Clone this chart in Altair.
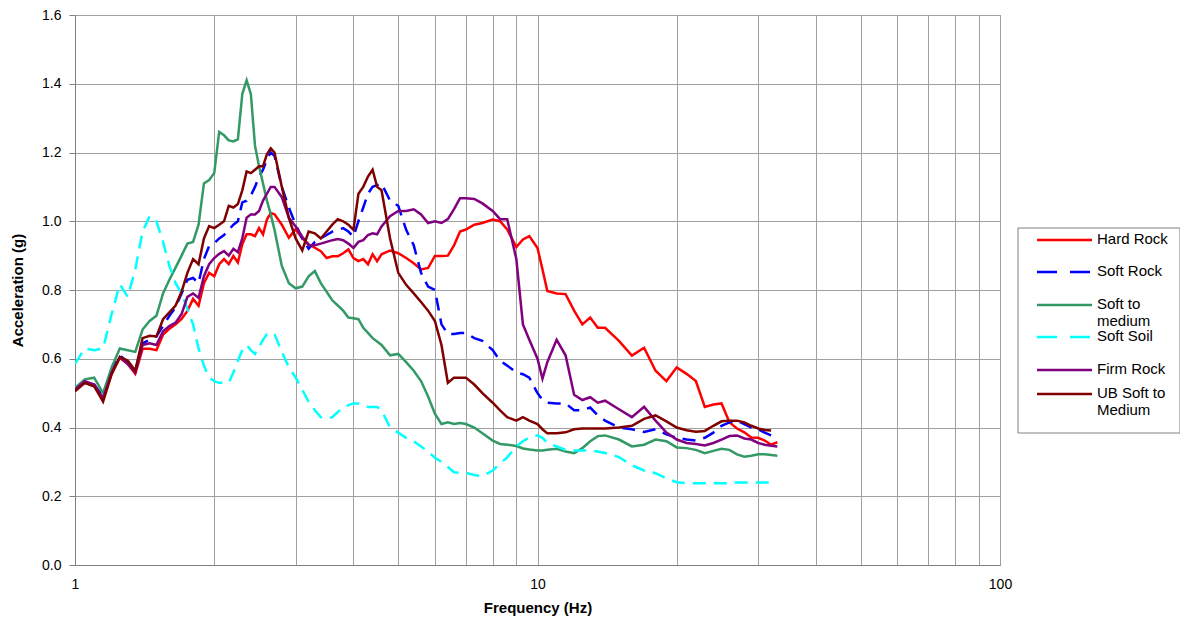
import altair as alt
import pandas as pd

# ---- data ----
freq = [1.0, 1.05, 1.1, 1.15, 1.2, 1.25, 1.3, 1.35, 1.4, 1.45,
        1.5, 1.55, 1.6, 1.65, 1.7, 1.75, 1.8, 1.85, 1.9, 1.95,
        2.0, 2.05, 2.1, 2.15, 2.2, 2.25, 2.3, 2.35, 2.4, 2.45,
        2.5, 2.55, 2.6, 2.65, 2.7,
        2.8, 2.9, 3.0, 3.1, 3.2, 3.3, 3.4, 3.5, 3.6, 3.7, 3.8, 3.9, 4.0, 4.1, 4.2, 4.3, 4.4, 4.5, 4.6,
        4.8, 5.0, 5.2, 5.4, 5.6, 5.8, 6.0, 6.2, 6.4, 6.6, 6.8, 7.0,
        7.3, 7.6, 8.0, 8.3, 8.6, 9.0, 9.3, 9.6, 10.0, 10.25, 10.5,
        11, 11.5, 12, 12.5, 13, 13.5, 14,
        15, 16, 17, 18, 19, 20, 21, 22, 23, 24, 25, 26, 27, 28, 29, 30, 31, 32, 33]

hard_rock = [0.51, 0.53, 0.52, 0.484, 0.556, 0.603, 0.585, 0.556, 0.629, 0.629,
             0.625, 0.67, 0.687, 0.70, 0.716, 0.739, 0.774, 0.754, 0.82, 0.85,
             0.84, 0.875, 0.89, 0.875, 0.899, 0.88, 0.933, 0.962, 0.962, 0.957,
             0.98, 0.962, 1.005, 1.024, 1.02,
             0.99, 0.952, 0.977, 0.95, 0.933, 0.923, 0.913, 0.893, 0.898, 0.898, 0.907, 0.918, 0.893, 0.884, 0.89, 0.875, 0.904, 0.884, 0.904,
             0.915, 0.907, 0.893, 0.878, 0.86, 0.864, 0.899, 0.899, 0.90, 0.93, 0.97, 0.976,
             0.99, 0.995, 1.005, 1.0, 0.976, 0.925, 0.947, 0.957, 0.922, 0.86, 0.797,
             0.79, 0.788, 0.74, 0.70, 0.72, 0.69, 0.69,
             0.652, 0.609, 0.632, 0.565, 0.535, 0.575, 0.556, 0.535, 0.46, 0.467, 0.47, 0.415, 0.397, 0.386, 0.371, 0.37, 0.362, 0.35, 0.357]

soft_rock = [0.51, 0.535, 0.525, 0.49, 0.565, 0.61, 0.59, 0.565, 0.645, 0.655,
             0.665, 0.695, 0.725, 0.75, 0.79, 0.83, 0.835, 0.82, 0.89, 0.928,
             0.936, 0.95, 0.96, 0.975, 0.99, 1.0, 1.055, 1.06, 1.075, 1.10,
             1.13, 1.15, 1.18, 1.20, 1.19,
             1.10, 1.04, 0.99, 0.95, 0.92, 0.94, 0.95, 0.96, 0.97, 0.975, 0.98, 0.97, 0.955, 1.0, 1.04, 1.08, 1.10, 1.105, 1.11,
             1.06, 1.045, 0.975, 0.93, 0.85, 0.81, 0.80, 0.70, 0.672, 0.672, 0.675, 0.675,
             0.66, 0.652, 0.625, 0.594, 0.58, 0.56, 0.555, 0.545, 0.50, 0.48, 0.472,
             0.47, 0.47, 0.45, 0.45, 0.458, 0.435, 0.42,
             0.40, 0.395, 0.387, 0.395, 0.38, 0.37, 0.365, 0.362, 0.37, 0.385, 0.405, 0.415, 0.42, 0.41, 0.40, 0.395, 0.385, 0.377, None]

soft_to_medium = [0.515, 0.54, 0.545, 0.50, 0.575, 0.63, 0.625, 0.62, 0.685, 0.71,
                  0.725, 0.79, 0.83, 0.865, 0.90, 0.935, 0.94, 0.99, 1.11, 1.12,
                  1.14, 1.26, 1.25, 1.235, 1.232, 1.238, 1.37, 1.41, 1.37, 1.22,
                  1.16, 1.11, 1.06, 1.02, 0.975,
                  0.87, 0.82, 0.805, 0.81, 0.84, 0.855, 0.82, 0.795, 0.77, 0.755, 0.74, 0.72, 0.718, 0.715, 0.69, 0.675, 0.66, 0.65, 0.64,
                  0.61, 0.614, 0.59, 0.565, 0.535, 0.49, 0.44, 0.41, 0.415, 0.41, 0.413, 0.41,
                  0.40, 0.383, 0.362, 0.352, 0.35, 0.346, 0.339, 0.336, 0.333, 0.333, 0.335,
                  0.338, 0.33, 0.325, 0.34, 0.36, 0.375, 0.377,
                  0.365, 0.345, 0.35, 0.365, 0.36, 0.342, 0.34, 0.335, 0.325, 0.332, 0.338, 0.335, 0.322, 0.315, 0.318, 0.322, 0.322, 0.32, 0.318]

soft_soil = [0.585, 0.63, 0.625, 0.63, 0.73, 0.817, 0.78, 0.86, 0.97, 1.015,
             1.0, 0.94, 0.87, 0.82, 0.79, 0.745, 0.70, 0.63, 0.58, 0.545,
             0.535, 0.53, 0.53, 0.53, 0.56, 0.594, 0.625, 0.64, 0.625, 0.614,
             0.635, 0.655, 0.672, 0.675, 0.672,
             0.62, 0.575, 0.545, 0.51, 0.475, 0.45, 0.43, 0.425, 0.43, 0.445, 0.458, 0.465, 0.47, 0.47, 0.465, 0.46, 0.46, 0.46, 0.45,
             0.40, 0.385, 0.37, 0.36, 0.345, 0.33, 0.312, 0.30, 0.285, 0.27, 0.268, 0.268,
             0.262, 0.258, 0.275, 0.295, 0.313, 0.345, 0.36, 0.371, 0.377, 0.37, 0.355,
             0.345, 0.335, 0.333, 0.333, 0.333, 0.33, 0.326,
             0.314, 0.29, 0.275, 0.267, 0.252, 0.241, 0.238, 0.238, 0.238, 0.238, 0.238, 0.238, 0.24, 0.24, 0.24, 0.24, 0.24, 0.24, None]

firm_rock = [0.51, 0.535, 0.525, 0.485, 0.56, 0.605, 0.585, 0.56, 0.64, 0.645,
             0.64, 0.68, 0.695, 0.705, 0.73, 0.78, 0.79, 0.777, 0.84, 0.875,
             0.893, 0.905, 0.913, 0.90, 0.92, 0.91, 0.95, 1.01, 1.02, 1.02,
             1.03, 1.06, 1.08, 1.10, 1.10,
             1.07, 1.01, 0.985, 0.955, 0.93, 0.93, 0.935, 0.94, 0.945, 0.948, 0.945, 0.935, 0.922, 0.94, 0.945, 0.96, 0.965, 0.962, 0.985,
             1.015, 1.03, 1.03, 1.035, 1.02, 0.995, 1.0, 0.995, 1.006, 1.035, 1.067, 1.067,
             1.065, 1.052, 1.03, 1.006, 1.006, 0.89, 0.70, 0.655, 0.60, 0.542, 0.59,
             0.655, 0.61, 0.495, 0.48, 0.488, 0.472, 0.478,
             0.453, 0.43, 0.46, 0.42, 0.385, 0.365, 0.355, 0.352, 0.348, 0.355, 0.365, 0.375, 0.377, 0.368, 0.365, 0.355, 0.35, 0.347, 0.345]

ub_soft_to_medium = [0.505, 0.53, 0.52, 0.475, 0.555, 0.605, 0.595, 0.565, 0.66, 0.667,
                     0.665, 0.715, 0.735, 0.755, 0.795, 0.85, 0.89, 0.875, 0.95, 0.986,
                     0.98, 0.99, 1.0, 1.045, 1.04, 1.05, 1.09, 1.145, 1.14, 1.15,
                     1.16, 1.16, 1.195, 1.212, 1.20,
                     1.10, 1.01, 0.95, 0.915, 0.97, 0.965, 0.95, 0.97, 0.99, 1.006, 1.0, 0.99, 0.975, 1.08, 1.10, 1.13, 1.15, 1.10, 1.09,
                     0.95, 0.85, 0.815, 0.79, 0.765, 0.74, 0.71, 0.64, 0.53, 0.545, 0.545, 0.545,
                     0.525, 0.50, 0.472, 0.45, 0.43, 0.42, 0.43, 0.42, 0.41, 0.395, 0.383,
                     0.383, 0.386, 0.395, 0.397, 0.397, 0.397, 0.397,
                     0.40, 0.405, 0.425, 0.435, 0.418, 0.40, 0.392, 0.388, 0.39, 0.405, 0.418, 0.42, 0.42, 0.415, 0.405, 0.397, 0.393, 0.391, None]

series_names = ["Hard Rock", "Soft Rock", "Soft to medium", "Soft Soil", "Firm Rock", "UB Soft to Medium"]
legend_labels = ["Hard Rock", "Soft Rock", "Soft to\nmedium", "Soft Soil", "Firm Rock", "UB Soft to\nMedium"]
series_values = [hard_rock, soft_rock, soft_to_medium, soft_soil, firm_rock, ub_soft_to_medium]

# ---- styles ----
colors = ["#FF0000", "#0000FF", "#339966", "#00FFFF", "#800080", "#800000"]
dashed = [False, True, False, True, False, False]
legend_row_y = [225, 257, 290, 322, 355, 379]   # pixel rows of the legend entries
FONT = "Liberation Sans"

rows = []
for name, vals in zip(series_names, series_values):
    for f, v in zip(freq, vals):
        if v is not None:
            rows.append({"series": name, "freq": f, "acc": v})
df = pd.DataFrame(rows)

x_enc = alt.X(
    "freq:Q",
    scale=alt.Scale(type="log", domain=[1, 100]),
    axis=alt.Axis(
        title="Frequency (Hz)",
        values=[1, 2, 3, 4, 5, 6, 7, 8, 9, 10, 20, 30, 40, 50, 60, 70, 80, 90, 100],
        labelExpr="(datum.value == 1 || datum.value == 10 || datum.value == 100) ? format(datum.value, 'd') : ''",
        ticks=False,
        labelPadding=12,
        labelFlush=False,
        titleY=42,
        titleBaseline="middle",
    ),
)
y_enc = alt.Y(
    "acc:Q",
    scale=alt.Scale(domain=[0, 1.6]),
    axis=alt.Axis(
        title="Acceleration (g)",
        values=[0, 0.2, 0.4, 0.6, 0.8, 1.0, 1.2, 1.4, 1.6],
        format=".1f",
        tickSize=6,
        labelPadding=8,
        titleX=-58,
        titleY=275,
        titleAngle=270,
        titleAlign="center",
        titleBaseline="middle",
    ),
)

layers = []
for name, col, dsh in zip(series_names, colors, dashed):
    props = dict(color=col, strokeWidth=2.5, clip=True)
    if dsh:
        props["strokeDash"] = [13, 8]
    layers.append(
        alt.Chart(df)
        .transform_filter(alt.datum.series == name)
        .mark_line(**props)
        .encode(x=x_enc, y=y_enc)
    )

one = pd.DataFrame({"k": [0]})
legend_layers = [
    alt.Chart(one).mark_rect(fill="white", stroke="#808080", strokeWidth=1).encode(
        x=alt.value(943), x2=alt.value(1105), y=alt.value(213), y2=alt.value(418)
    )
]
for lab, col, dsh, ry in zip(legend_labels, colors, dashed, legend_row_y):
    props = dict(color=col, strokeWidth=2.5)
    if dsh:
        props["strokeDash"] = [20, 13]
    legend_layers.append(
        alt.Chart(one).mark_rule(**props).encode(x=alt.value(962), x2=alt.value(1017), y=alt.value(ry))
    )
    legend_layers.append(
        alt.Chart(one)
        .mark_text(align="left", baseline="top", font=FONT, fontSize=15, lineBreak="\n", lineHeight=17, color="black")
        .encode(x=alt.value(1022), y=alt.value(ry - 8), text=alt.value(lab))
    )

chart = (
    alt.layer(*layers, *legend_layers)
    .properties(
        width=925,
        height=550,
        autosize=alt.AutoSizeParams(type="none"),
        padding={"left": 67, "top": 7, "right": 180, "bottom": 53},
        background="white",
    )
    .configure_view(stroke="#808080", strokeWidth=1)
    .configure_axis(
        labelFont=FONT,
        labelFontSize=14,
        labelColor="black",
        titleFont=FONT,
        titleFontSize=15,
        titleFontWeight="bold",
        titleColor="black",
        gridColor="#a0a0a0",
        gridWidth=1,
        gridOpacity=1,
        domainColor="#808080",
        tickColor="#808080",
    )
)

chart.save("out.html", embed_options={"renderer": "svg", "actions": False})
